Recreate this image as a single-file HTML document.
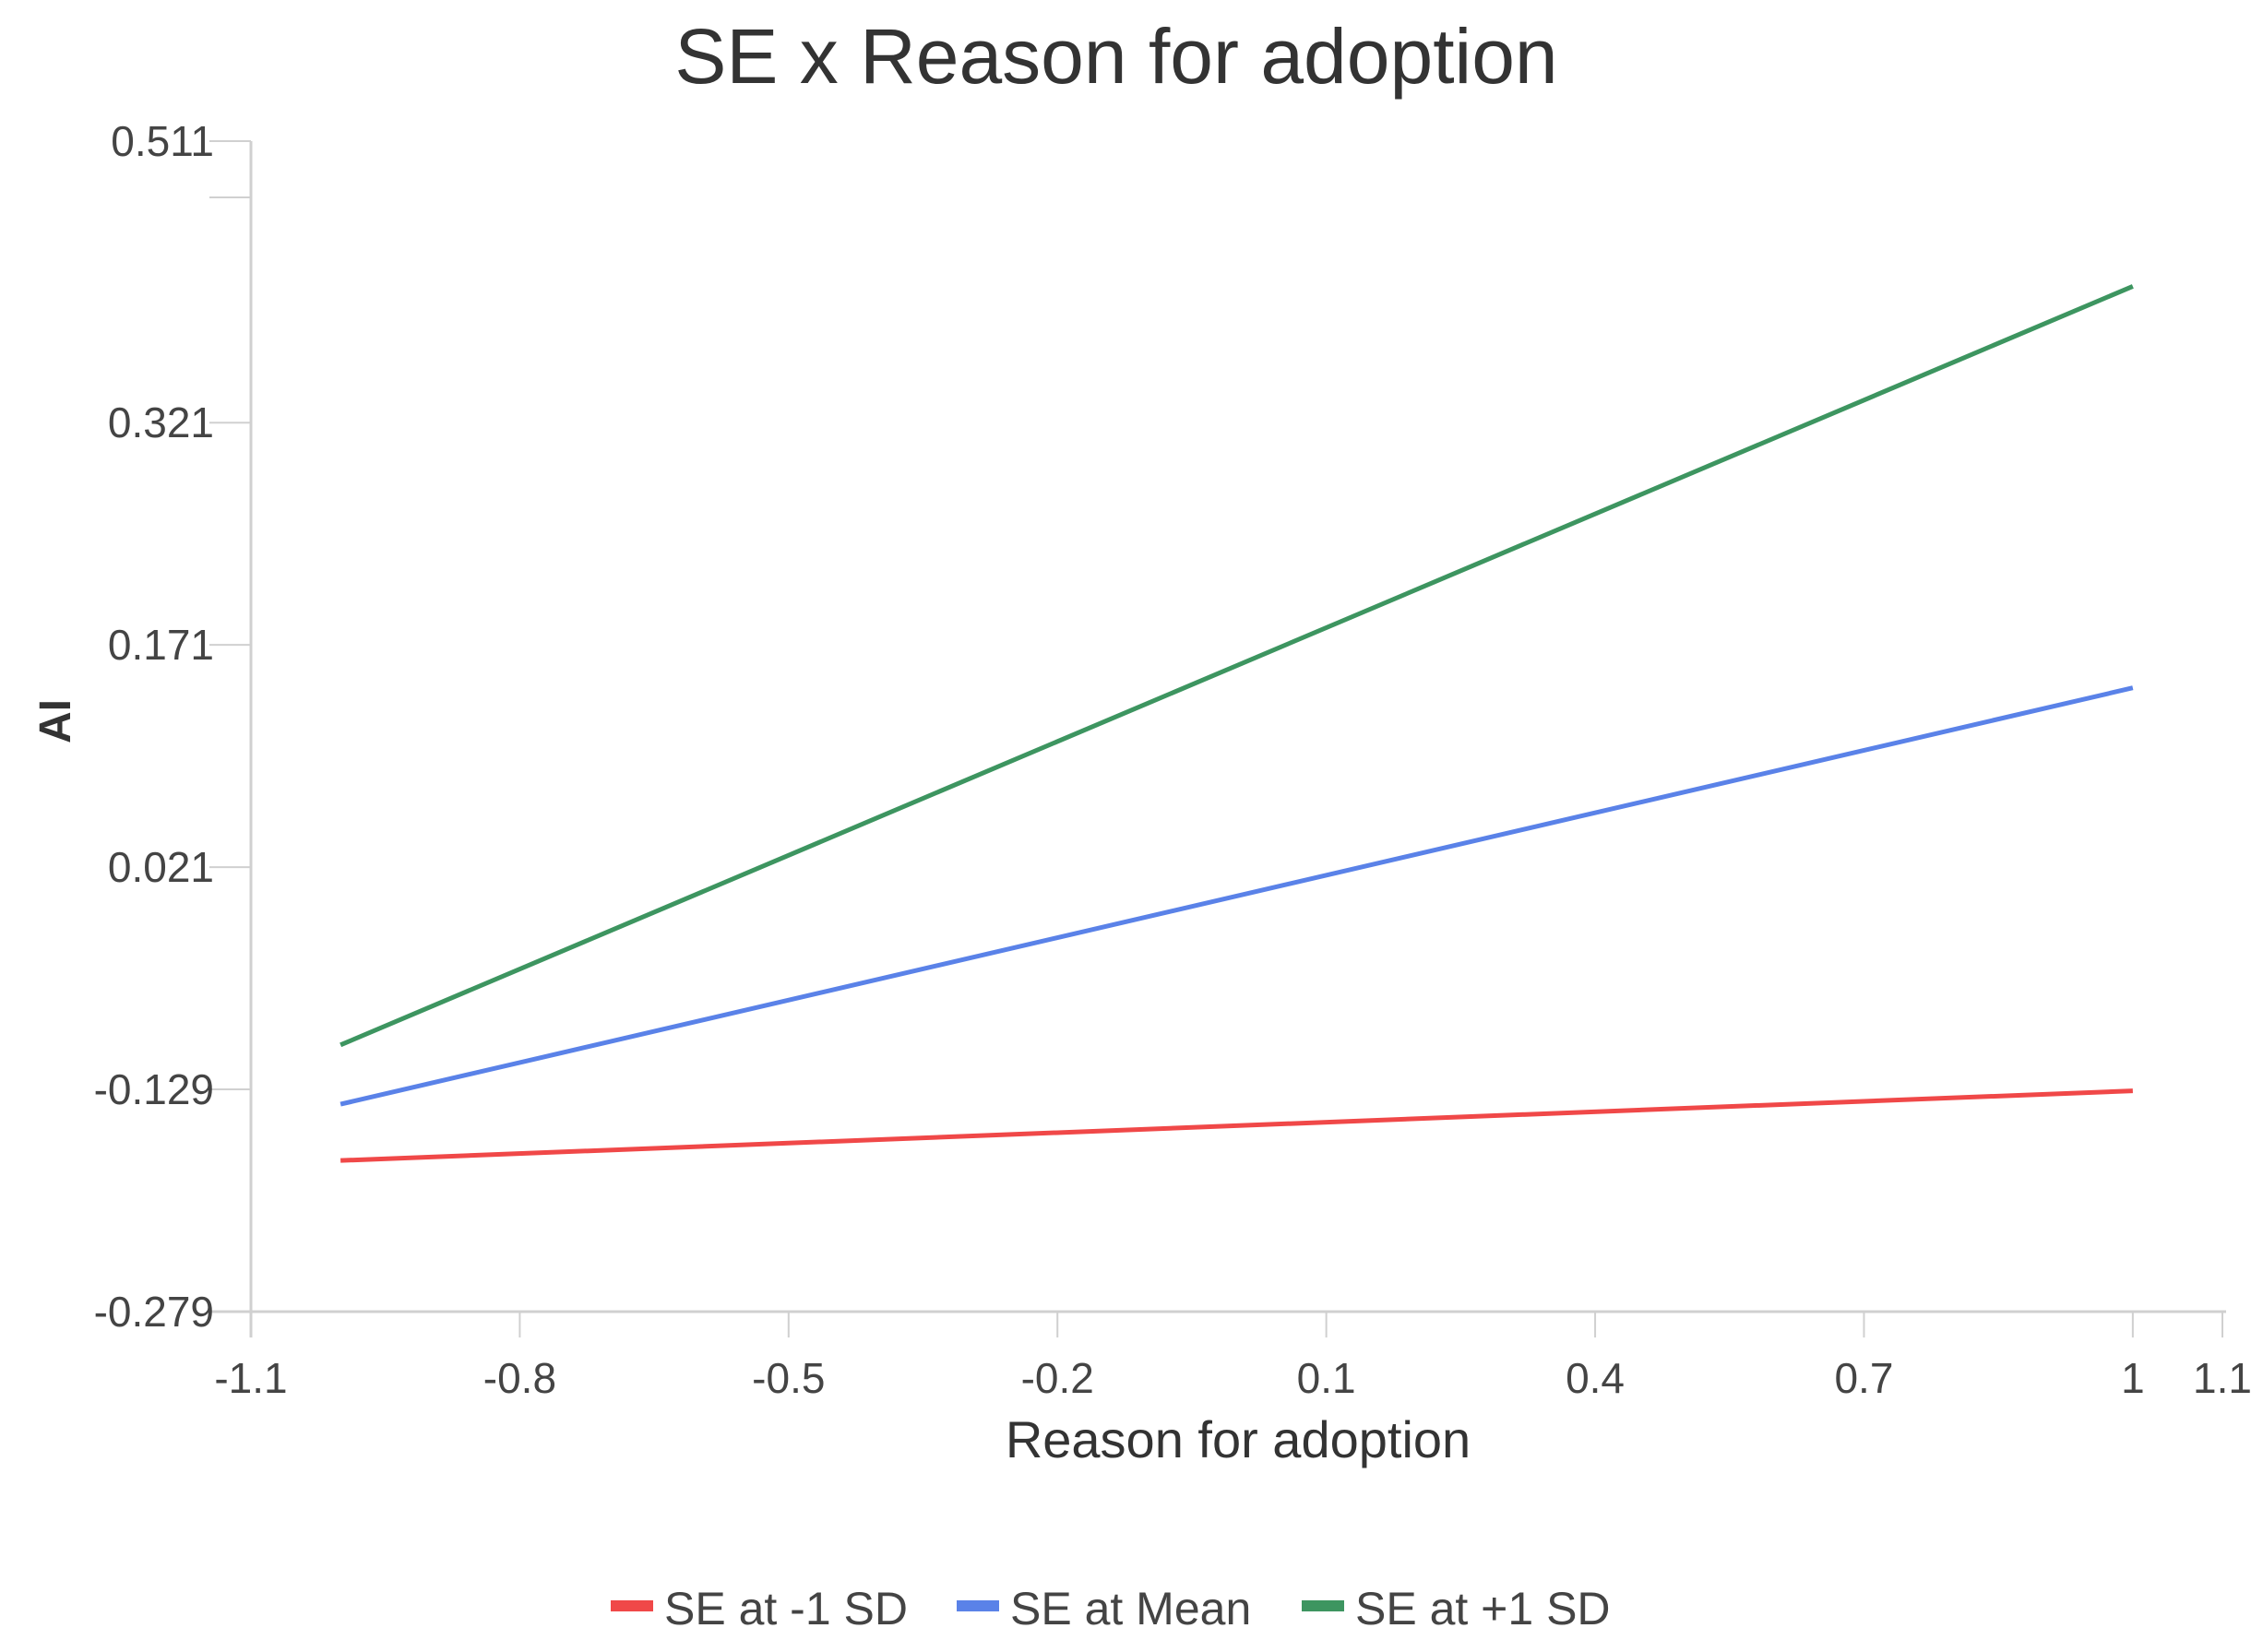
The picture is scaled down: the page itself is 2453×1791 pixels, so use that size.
<!DOCTYPE html>
<html><head><meta charset="utf-8"><style>
html,body{margin:0;padding:0;background:#fff}
svg{display:block}
text{font-family:"Liberation Sans",sans-serif;fill:#444}
</style></head><body>
<svg id="chart" width="2453" height="1791" viewBox="0 0 2453 1791" xmlns="http://www.w3.org/2000/svg">
<text x="1210" y="90" font-size="84" text-anchor="middle" style="fill:#333">SE x Reason for adoption</text>
<text transform="translate(76,782) rotate(-90)" font-size="48" font-weight="bold" text-anchor="middle" style="fill:#333">AI</text>
<text x="1342" y="1580" font-size="56" text-anchor="middle" style="fill:#333">Reason for adoption</text>
<g id="axes"></g>
<g id="lines"></g>
<g id="legend"></g>
</svg>
<script>
const xTicks = [-1.1, -0.8, -0.5, -0.2, 0.1, 0.4, 0.7, 1, 1.1];
const yTicks = [0.511, 0.321, 0.171, 0.021, -0.129, -0.279];
const xValues = [-1, 1];
const seriesNames = ["SE at -1 SD", "SE at Mean", "SE at +1 SD"];
const seriesLow = [-0.177, -0.130];
const seriesMean = [-0.139, 0.142];
const seriesHigh = [-0.099, 0.413];
const seriesColors = ["#f04848", "#5a82e8", "#3d9560"];

const NS = "http://www.w3.org/2000/svg";
const X0 = 272, X1 = 2409, Y0 = 1422, Y1 = 153;
const xMin = -1.1, xMax = 1.1, yMin = -0.279, yMax = 0.511;
function sx(v){ return X0 + (v - xMin) / (xMax - xMin) * (X1 - X0); }
function sy(v){ return Y0 - (v - yMin) / (yMax - yMin) * (Y0 - Y1); }
function mk(tag, attrs, parent){
  const e = document.createElementNS(NS, tag);
  for (const k in attrs) e.setAttribute(k, attrs[k]);
  parent.appendChild(e); return e;
}
const axes = document.getElementById('axes');
let yl = mk('line', {x1:X0, y1:Y1, x2:X0, y2:Y0+28, stroke:'#d0d0d0', 'stroke-width':3}, axes);


let xl = mk('line', {x1:X0-45, y1:Y0, x2:X1+4, y2:Y0, stroke:'#d0d0d0', 'stroke-width':3}, axes);


let minor = mk('line', {x1:X0-45, y1:214, x2:X0, y2:214, stroke:'#d0d0d0', 'stroke-width':2}, axes);


yTicks.forEach(v => {
  const y = sy(v);
  const t = mk('line', {x1:X0-45, y1:y, x2:X0, y2:y, stroke:'#d0d0d0', 'stroke-width':2}, axes);
  
  
  const l = mk('text', {x:X0-40, y:y+16, 'font-size':46, 'text-anchor':'end'}, axes);
  l.textContent = v.toFixed(3);
  
  
});
xTicks.forEach(v => {
  const x = sx(v);
  const t = mk('line', {x1:x, y1:Y0, x2:x, y2:Y0+28, stroke:'#d0d0d0', 'stroke-width':2}, axes);
  
  
  const l = mk('text', {x:x, y:Y0+88, 'font-size':46, 'text-anchor':'middle'}, axes);
  l.textContent = String(v);
  
  
});
const lines = document.getElementById('lines');
[seriesLow, seriesMean, seriesHigh].forEach((s, i) => {
  const pts = s.map((v, j) => sx(xValues[j]) + ',' + sy(v)).join(' ');
  const p = mk('polyline', {points:pts, fill:'none', stroke:seriesColors[i], 'stroke-width':5}, lines);
  
  
});
const legend = document.getElementById('legend');
const lx = [662, 1037, 1411];
seriesNames.forEach((n, i) => {
  const r = mk('rect', {x:lx[i], y:1735, width:46, height:12, fill:seriesColors[i]}, legend);
  
  
  const t = mk('text', {x:lx[i]+58, y:1761, 'font-size':50}, legend);
  t.textContent = n;
  
  
});
</script>
</body></html>
